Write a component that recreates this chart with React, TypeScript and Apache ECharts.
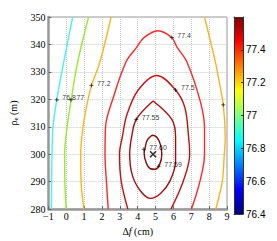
import React, { useEffect, useRef } from "react";
import * as echarts from "echarts";

// colour scale (jet) range shown by the colour bar
const C_MIN = 76.4;
const C_MAX = 77.6;

// axis ranges
const X_MIN = -1;
const X_MAX = 9;
const Y_MIN = 280;
const Y_MAX = 350;

// contour lines: [Δf (cm), ρe (m)]
const contour768 = [[0.36, 350], [-0.16, 333], [-0.53, 320], [-0.74, 310], [-0.8, 300], [-0.82, 290], [-0.83, 280]];
const contour770 = [[1.25, 350], [0.62, 333], [0.28, 320], [0.05, 310], [-0.09, 300], [-0.08, 290], [0.0, 280]];
const contour772L = [[2.51, 350], [1.88, 333.5], [1.41, 325], [1.22, 320], [0.94, 310], [0.81, 300], [0.83, 290], [0.99, 280]];
const contour772R = [[7.74, 350], [8.37, 333], [8.53, 327.6], [8.79, 318], [8.9, 306.3], [8.84, 299.2], [8.74, 290.3], [8.37, 280]];
const contour774 = [[2.35, 280], [2.25, 290], [2.17, 300], [2.2, 310], [2.6, 320], [3.35, 333.7], [3.95, 339], [4.35, 342.5], [5.13, 345], [5.91, 342.5], [6.2, 339], [6.75, 333.7], [7.48, 319.8], [7.74, 310], [7.74, 300], [7.48, 290], [7.01, 280]];
const contour775 = [[3.45, 280], [3.08, 290], [2.98, 300], [3.14, 306.3], [3.4, 314.5], [4.03, 323.4], [5.07, 328.7], [6.12, 323.4], [6.64, 317], [6.85, 306.3], [6.91, 300], [6.54, 290], [5.86, 280]];
const contour7755 = [[4.86, 319.4], [3.92, 312.7], [3.66, 306.3], [3.55, 300], [3.71, 292.1], [4.18, 286.4], [4.71, 283.9], [5.28, 285.7], [5.81, 290.3], [6.12, 297.4], [6.12, 306.3], [5.91, 312.7], [4.86, 319.4]];
const contour7759 = [[4.8, 306.9], [4.53, 305.1], [4.41, 302.1], [4.36, 300.4], [4.48, 296.8], [4.71, 294.7], [4.97, 294.5], [5.23, 296.3], [5.35, 299.9], [5.28, 303.4], [5.06, 306.3], [4.8, 306.9]];

const contourLevels = [76.8, 77, 77.2, 77.2, 77.4, 77.5, 77.55, 77.59];
const contourLines = [contour768, contour770, contour772L, contour772R, contour774, contour775, contour7755, contour7759];
const contourColors = ["#48f2f2", "#98ea2c", "#ffb21e", "#ffb21e", "#ff2626", "#c81010", "#a80c0c", "#850808"];

// contour labels: [Δf, ρe, text]
const contourLabels = [
  [-0.53, 319.8, "76.8"],
  [0.26, 319.8, "77"],
  [1.41, 325.1, "77.2"],
  [8.79, 318, ""],
  [5.91, 342.5, "77.4"],
  [6.12, 323.4, "77.5"],
  [3.92, 312.7, "77.55"],
  [5.18, 295.6, "77.59"],
  [4.34, 301.8, "77.60"],
];

// maximum
const maxPoint = [[4.86, 300]];

function jet(v: number): string {
  const t = (v - C_MIN) / (C_MAX - C_MIN);
  const c = (x: number) => Math.max(0, Math.min(1, x));
  const r = c(1.5 - Math.abs(4 * t - 3));
  const g = c(1.5 - Math.abs(4 * t - 2));
  const b = c(1.5 - Math.abs(4 * t - 1));
  return `rgb(${Math.round(r * 255)},${Math.round(g * 255)},${Math.round(b * 255)})`;
}

const jetStops = [0, 0.125, 0.25, 0.375, 0.5, 0.625, 0.75, 0.875, 1].map((t) => ({
  offset: t,
  color: jet(C_MIN + t * (C_MAX - C_MIN)),
}));

const SERIF = "'Liberation Serif', 'DejaVu Serif', serif";
const SANS = "'Liberation Sans', Arial, sans-serif";

export default function App() {
  const ref = useRef<HTMLDivElement>(null);
  useEffect(() => {
    if (!ref.current) return;
    const chart = echarts.init(ref.current, null, { renderer: "svg" });

    const lineSeries = contourLines.map((pts, i) => ({
      type: "line",
      name: String(contourLevels[i]),
      xAxisIndex: 0,
      yAxisIndex: 0,
      data: pts,
      smooth: 0.35,
      symbol: "none",
      showSymbol: false,
      silent: true,
      clip: true,
      lineStyle: { color: contourColors[i], width: 1.4 },
      z: 3,
    }));

    const option: any = {
      animation: false,
      backgroundColor: "#fff",
      grid: [
        { left: 36, top: 17, width: 191, height: 197, show: true, borderColor: "#999", borderWidth: 1, backgroundColor: "#fff" },
        { left: 234, top: 17, width: 9, height: 197 },
      ],
      xAxis: [
        {
          gridIndex: 0,
          type: "value",
          min: X_MIN,
          max: X_MAX,
          interval: 1,
          name: "{a|Δ}{b|f}{a| (cm)}",
          nameLocation: "middle",
          nameGap: 12,
          nameTextStyle: {
            rich: {
              a: { fontFamily: SERIF, fontSize: 10, color: "#000" },
              b: { fontFamily: SERIF, fontSize: 10, fontStyle: "italic", color: "#000" },
            },
          },
          axisLine: { show: true, onZero: false, lineStyle: { color: "#999", width: 2.5 } },
          axisTick: { show: true, inside: true, length: 3, lineStyle: { color: "#666" } },
          axisLabel: {
            margin: 2,
            fontFamily: SERIF,
            fontSize: 10,
            color: "#000",
            formatter: (v: number) => (v < 0 ? "\u2212" + -v : String(v)),
          },
          splitLine: { show: true, lineStyle: { color: "#c8c8c8", type: "dotted", width: 1 } },
        },
        {
          gridIndex: 1,
          type: "category",
          data: ["cb"],
          position: "bottom",
          z: 5,
          axisLine: { show: true, lineStyle: { color: "#333", width: 1 } },
          axisTick: { show: false },
          axisLabel: { show: false },
          splitLine: { show: false },
        },
        {
          gridIndex: 1,
          type: "category",
          data: ["cb"],
          position: "top",
          z: 5,
          axisLine: { show: true, lineStyle: { color: "#333", width: 1 } },
          axisTick: { show: false },
          axisLabel: { show: false },
          splitLine: { show: false },
        },
      ],
      yAxis: [
        {
          gridIndex: 0,
          type: "value",
          min: Y_MIN,
          max: Y_MAX,
          interval: 10,
          name: "{a|ρ}{b|e}{a| (m)}",
          nameLocation: "middle",
          nameGap: 20,
          nameTextStyle: {
            rich: {
              a: { fontFamily: SERIF, fontSize: 10, color: "#000" },
              b: { fontFamily: SERIF, fontSize: 7, color: "#000", padding: [6, 0, 0, 0] },
            },
          },
          axisLine: { show: true, onZero: false, lineStyle: { color: "#999", width: 2.5 } },
          axisTick: { show: true, inside: true, length: 3, lineStyle: { color: "#666" } },
          axisLabel: { margin: 3, fontFamily: SERIF, fontSize: 10, color: "#000" },
          splitLine: { show: true, lineStyle: { color: "#c8c8c8", type: "dotted", width: 1 } },
        },
        {
          gridIndex: 1,
          type: "value",
          min: C_MIN,
          max: C_MAX,
          interval: 0.2,
          position: "right",
          z: 5,
          axisLine: { show: true, lineStyle: { color: "#333", width: 1 } },
          axisTick: { show: true, inside: true, length: 2, lineStyle: { color: "#333" } },
          axisLabel: { margin: 3, fontFamily: SANS, fontSize: 10, color: "#000", showMaxLabel: false },
          splitLine: { show: false },
        },
        {
          gridIndex: 1,
          type: "value",
          min: C_MIN,
          max: C_MAX,
          interval: 0.2,
          position: "left",
          z: 5,
          axisLine: { show: true, lineStyle: { color: "#333", width: 1 } },
          axisTick: { show: false },
          axisLabel: { show: false },
          splitLine: { show: false },
        },
      ],
      series: [
        ...lineSeries,
        {
          type: "scatter",
          xAxisIndex: 0,
          yAxisIndex: 0,
          data: contourLabels,
          symbol: "path://M5,0L5,10M0,5L10,5",
          symbolSize: 4,
          silent: true,
          itemStyle: { color: "none", borderColor: "#000", borderWidth: 0.8 },
          label: {
            show: true,
            position: "right",
            distance: 1,
            offset: [0, -2],
            formatter: (p: any) => p.data[2],
            fontFamily: SANS,
            fontSize: 7,
            color: "#000",
          },
          z: 5,
        },
        {
          type: "scatter",
          xAxisIndex: 0,
          yAxisIndex: 0,
          data: maxPoint,
          symbol: "path://M0,0L10,10M10,0L0,10",
          symbolSize: 6,
          silent: true,
          itemStyle: { color: "none", borderColor: "#000", borderWidth: 1.6 },
          z: 6,
        },
        {
          type: "bar",
          xAxisIndex: 1,
          yAxisIndex: 1,
          stack: "cb",
          barWidth: "100%",
          silent: true,
          data: [C_MIN],
          itemStyle: { color: "transparent" },
        },
        {
          type: "bar",
          xAxisIndex: 1,
          yAxisIndex: 1,
          stack: "cb",
          barWidth: "100%",
          silent: true,
          data: [C_MAX - C_MIN],
          itemStyle: {
            color: { type: "linear", x: 0, y: 1, x2: 0, y2: 0, colorStops: jetStops },
          },
        },
      ],
    };
    chart.setOption(option);
    return () => chart.dispose();
  }, []);
  return <div ref={ref} style={{ position: "fixed", left: 0, top: 0, width: 277, height: 241 }} />;
}
